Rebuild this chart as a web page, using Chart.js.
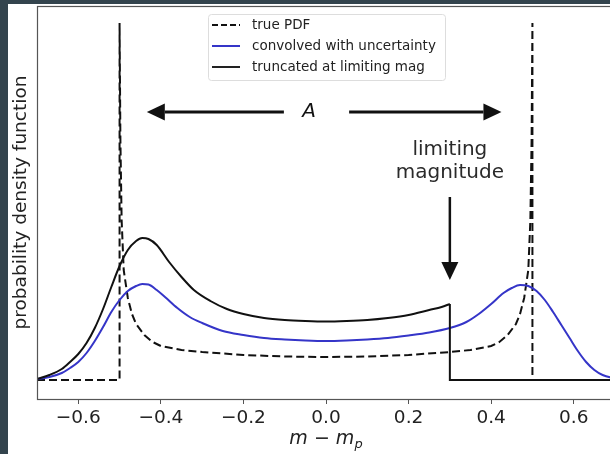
<!DOCTYPE html>
<html>
<head>
<meta charset="utf-8">
<script src="https://cdn.jsdelivr.net/npm/chart.js@4.4.0/dist/chart.umd.min.js"></script>
<style>
  html, body { margin: 0; padding: 0; background: #33444d; overflow: hidden; width: 610px; height: 454px; }
  #panel { position: absolute; left: 8px; top: 4px; width: 612px; height: 450px; background: #fff; }
</style>
</head>
<body>
<div id="panel"><canvas id="pdf"></canvas></div>
<script>
// === DATA ===
var xTicks = [-0.6, -0.4, -0.2, 0.0, 0.2, 0.4, 0.6];
var limitMag = 0.3;

// true PDF (dashed)
var truePdfX = [-0.7, -0.5, -0.5, -0.498, -0.495, -0.49, -0.48, -0.47, -0.46, -0.44, -0.42, -0.4, -0.35, -0.3, -0.2, -0.1,
                0, 0.1, 0.2, 0.3, 0.35, 0.4, 0.42, 0.44, 0.46, 0.47, 0.48, 0.49, 0.495, 0.498, 0.5, 0.5, 0.7];
var truePdfY = [0, 0, 3.57, 2.4, 1.6, 1.1, 0.82, 0.66, 0.56, 0.45, 0.38, 0.34, 0.3, 0.28, 0.25, 0.235,
                0.23, 0.235, 0.25, 0.28, 0.3, 0.34, 0.38, 0.45, 0.56, 0.66, 0.82, 1.1, 1.6, 2.4, 3.57, 0, 0];

// convolved with uncertainty (blue)
var convX = [-0.7, -0.67, -0.64, -0.62, -0.6, -0.58, -0.56, -0.54, -0.52, -0.5, -0.48, -0.46, -0.445, -0.43, -0.41, -0.39,
             -0.36, -0.33, -0.3, -0.25, -0.2, -0.15, -0.1, -0.05, 0, 0.05, 0.1, 0.15, 0.2, 0.25, 0.3, 0.34, 0.37, 0.4,
             0.43, 0.45, 0.47, 0.49, 0.51, 0.53, 0.55, 0.57, 0.59, 0.61, 0.63, 0.65, 0.67, 0.7];
var convY = [0.01, 0.03, 0.07, 0.12, 0.18, 0.27, 0.39, 0.53, 0.68, 0.8, 0.89, 0.94, 0.96, 0.955, 0.9, 0.83,
             0.72, 0.63, 0.57, 0.49, 0.45, 0.42, 0.405, 0.395, 0.39, 0.395, 0.405, 0.42, 0.445, 0.475, 0.52, 0.58, 0.66, 0.76,
             0.87, 0.92, 0.95, 0.94, 0.89, 0.8, 0.68, 0.55, 0.42, 0.29, 0.18, 0.1, 0.05, 0.015];

// truncated at limiting mag (black)
var truncX = [-0.7, -0.67, -0.64, -0.62, -0.6, -0.58, -0.56, -0.54, -0.52, -0.5, -0.48, -0.46, -0.445, -0.43, -0.41, -0.38,
              -0.35, -0.32, -0.28, -0.24, -0.2, -0.15, -0.1, -0.05, 0, 0.05, 0.1, 0.15, 0.2, 0.25, 0.28, 0.3, 0.3, 0.7];
var truncY = [0.01, 0.05, 0.11, 0.18, 0.26, 0.37, 0.52, 0.71, 0.93, 1.14, 1.3, 1.39, 1.42, 1.41, 1.35, 1.18,
              1.03, 0.9, 0.79, 0.71, 0.66, 0.62, 0.6, 0.59, 0.585, 0.59, 0.6, 0.62, 0.65, 0.7, 0.73, 0.76, 0, 0];

function pts(xs, ys) { return xs.map(function(x, i) { return { x: x, y: ys[i] }; }); }

var truePts = pts(truePdfX, truePdfY);
var convPts = pts(convX, convY);
var truncPts = pts(truncX, truncY);
var cutIdx = truncX.indexOf(limitMag);

function fmtTick(v) { return v.toFixed(1).replace('-', '\u2212'); }

// === ANNOTATIONS ===
function arrow(ctx, x1, y1, x2, y2, lw) {
  var ang = Math.atan2(y2 - y1, x2 - x1), hl = 18, hw = 8.5;
  var bx = x2 - hl * Math.cos(ang), by = y2 - hl * Math.sin(ang);
  ctx.lineWidth = lw;
  ctx.beginPath(); ctx.moveTo(x1, y1); ctx.lineTo(bx, by); ctx.stroke();
  ctx.beginPath(); ctx.moveTo(x2, y2);
  ctx.lineTo(bx + hw * Math.sin(ang), by - hw * Math.cos(ang));
  ctx.lineTo(bx - hw * Math.sin(ang), by + hw * Math.cos(ang));
  ctx.closePath(); ctx.fill();
}

var overlay = {
  id: 'overlay',
  afterDraw: function(chart) {
    var ctx = chart.ctx, a = chart.chartArea, xs = chart.scales.x, ys = chart.scales.y;
    var X = function(v) { return xs.getPixelForValue(v); };
    var Y = function(v) { return ys.getPixelForValue(v); };
    ctx.save();

    // frame
    ctx.strokeStyle = '#555'; ctx.lineWidth = 1.2;
    ctx.strokeRect(a.left + 0.5, a.top + 0.5, a.right - a.left, a.bottom - a.top);

    // span arrows with A
    ctx.strokeStyle = '#111'; ctx.fillStyle = '#111';
    arrow(ctx, X(-0.102), Y(2.68), X(-0.434), Y(2.68), 3);
    arrow(ctx, X(0.056), Y(2.68), X(0.425), Y(2.68), 3);
    ctx.font = 'italic 20px "DejaVu Sans"';
    ctx.textAlign = 'center'; ctx.textBaseline = 'middle';
    ctx.fillText('A', X(-0.041), Y(2.68));

    // limiting magnitude
    ctx.fillStyle = '#2a2a2a';
    ctx.font = '20px "DejaVu Sans"';
    ctx.fillText('limiting', X(limitMag), Y(2.30));
    ctx.fillText('magnitude', X(limitMag), Y(2.07));
    ctx.fillStyle = '#111';
    arrow(ctx, X(limitMag), Y(1.83), X(limitMag), Y(1.0), 2.5);

    // legend
    ctx.fillStyle = 'rgba(255,255,255,0.85)'; ctx.strokeStyle = '#ddd'; ctx.lineWidth = 1;
    ctx.beginPath(); ctx.roundRect(200.5, 10.5, 237, 66, 3); ctx.fill(); ctx.stroke();
    var rows = [
      { label: 'true PDF', color: '#111', dash: [6, 3] },
      { label: 'convolved with uncertainty', color: '#3535c8', dash: [] },
      { label: 'truncated at limiting mag', color: '#222', dash: [] }
    ];
    ctx.font = '13.5px "DejaVu Sans"'; ctx.textAlign = 'left';
    rows.forEach(function(r, i) {
      var y = 21 + i * 21;
      ctx.strokeStyle = r.color; ctx.lineWidth = 2; ctx.setLineDash(r.dash);
      ctx.beginPath(); ctx.moveTo(204, y); ctx.lineTo(232, y); ctx.stroke();
      ctx.setLineDash([]);
      ctx.fillStyle = '#222';
      ctx.fillText(r.label, 244, y);
    });

    // axis titles
    ctx.fillStyle = '#222';
    ctx.save();
    ctx.translate(13, (a.top + a.bottom) / 2);
    ctx.rotate(-Math.PI / 2);
    ctx.font = '18.5px "DejaVu Sans"'; ctx.textAlign = 'center'; ctx.textBaseline = 'middle';
    ctx.fillText('probability density function', 0, 0);
    ctx.restore();

    ctx.textAlign = 'left'; ctx.textBaseline = 'alphabetic';
    ctx.font = 'italic 19px "DejaVu Sans"';
    var main = 'm \u2212 m', wMain = ctx.measureText(main).width;
    ctx.font = 'italic 13px "DejaVu Sans"';
    var wSub = ctx.measureText('p').width;
    var x0 = X(0) - (wMain + wSub) / 2, base = 440;
    ctx.font = 'italic 19px "DejaVu Sans"';
    ctx.fillText(main, x0, base);
    ctx.font = 'italic 13px "DejaVu Sans"';
    ctx.fillText('p', x0 + wMain, base + 4);

    ctx.restore();
  }
};

// === CHART ===
var ctx = document.getElementById('pdf').getContext('2d');
var lineBase = { showLine: true, pointRadius: 0, fill: false };

new Chart(ctx, {
  type: 'scatter',
  data: {
    datasets: [
      Object.assign({}, lineBase, { label: 'truncated at limiting mag', data: truncPts.slice(0, cutIdx + 1),
        borderColor: '#111', borderWidth: 2, cubicInterpolationMode: 'monotone' }),
      Object.assign({}, lineBase, { label: 'truncated tail', data: truncPts.slice(cutIdx),
        borderColor: '#111', borderWidth: 2, tension: 0 }),
      Object.assign({}, lineBase, { label: 'convolved with uncertainty', data: convPts,
        borderColor: '#3535c8', borderWidth: 2, cubicInterpolationMode: 'monotone' }),
      Object.assign({}, lineBase, { label: 'true PDF', data: truePts,
        borderColor: '#111', borderWidth: 2, borderDash: [8, 4], tension: 0 })
    ]
  },
  options: {
    responsive: true, maintainAspectRatio: false, animation: false,
    layout: { padding: { left: 29, top: 2, right: 5, bottom: 0 } },
    plugins: { legend: { display: false }, tooltip: { enabled: false } },
    scales: {
      x: {
        type: 'linear', min: -0.7, max: 0.7,
        afterBuildTicks: function(s) { s.ticks = xTicks.map(function(v) { return { value: v }; }); },
        afterFit: function(s) { s.height = 55; },
        grid: { display: true, drawOnChartArea: false, drawTicks: true, tickLength: 5, color: '#555' },
        border: { display: false },
        ticks: { font: { family: 'DejaVu Sans', size: 18.5 }, color: '#222', padding: 3,
                 maxRotation: 0, autoSkip: false, callback: function(v) { return fmtTick(v); } }
      },
      y: { display: false, min: -0.19, max: 3.74 }
    }
  },
  plugins: [overlay]
});
</script>
</body>
</html>
